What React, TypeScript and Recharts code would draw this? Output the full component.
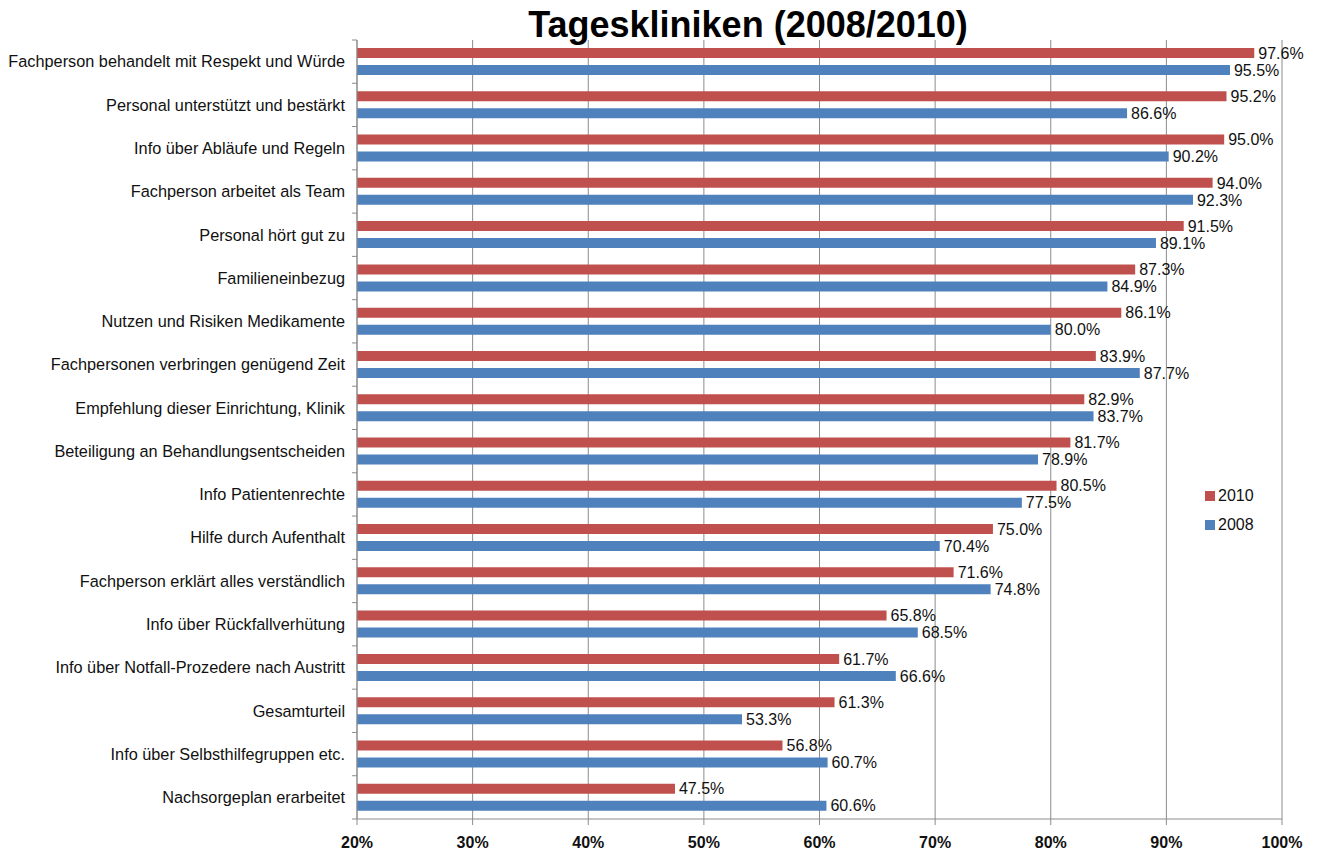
import React from "react";
import { BarChart, Bar, XAxis, YAxis, CartesianGrid, LabelList, Legend } from "recharts";

// Kategorien von oben nach unten
const categories = [
  "Fachperson behandelt mit Respekt und Würde",
  "Personal unterstützt und bestärkt",
  "Info über Abläufe und Regeln",
  "Fachperson arbeitet als Team",
  "Personal hört gut zu",
  "Familieneinbezug",
  "Nutzen und Risiken Medikamente",
  "Fachpersonen verbringen genügend Zeit",
  "Empfehlung dieser Einrichtung, Klinik",
  "Beteiligung an Behandlungsentscheiden",
  "Info Patientenrechte",
  "Hilfe durch Aufenthalt",
  "Fachperson erklärt alles verständlich",
  "Info über Rückfallverhütung",
  "Info über Notfall-Prozedere nach Austritt",
  "Gesamturteil ",
  "Info über Selbsthilfegruppen etc.",
  "Nachsorgeplan erarbeitet",
];

const values2010 = [97.6, 95.2, 95.0, 94.0, 91.5, 87.3, 86.1, 83.9, 82.9, 81.7, 80.5, 75.0, 71.6, 65.8, 61.7, 61.3, 56.8, 47.5];
const values2008 = [95.5, 86.6, 90.2, 92.3, 89.1, 84.9, 80.0, 87.7, 83.7, 78.9, 77.5, 70.4, 74.8, 68.5, 66.6, 53.3, 60.7, 60.6];

const xTicks = [20, 30, 40, 50, 60, 70, 80, 90, 100];

const RED = "#C0504D";
const BLUE = "#4F81BD";
const GRID = "#8c8c8c";
const FONT = '"Liberation Sans", Arial, sans-serif';

const data = categories.map((name, i) => ({
  name,
  y2010: values2010[i],
  y2008: values2008[i],
}));

const WIDTH = 1322;
const HEIGHT = 853;
const PLOT_LEFT = 357;
const PLOT_TOP = 40;
const PLOT_BOTTOM = 819;
const band = (PLOT_BOTTOM - PLOT_TOP) / categories.length;

const pct = (v: any) => `${Number(v).toFixed(1)}%`;

// y-axis tick: label right aligned plus small tick marks at the band borders
const CategoryTick = ({ y, payload, index }: any) => {
  const top = y - band / 2;
  const last = index === categories.length - 1;
  return (
    <g>
      <line x1={PLOT_LEFT - 5} x2={PLOT_LEFT} y1={top} y2={top} stroke={GRID} />
      {last && <line x1={PLOT_LEFT - 5} x2={PLOT_LEFT} y1={top + band} y2={top + band} stroke={GRID} />}
      <text x={345} y={y} dy={5.8} textAnchor="end" fontSize={16.3} fill="#111" fontFamily={FONT}>
        {payload.value}
      </text>
    </g>
  );
};

const LegendBox = () => (
  <div style={{ fontFamily: FONT, fontSize: 16, color: "#111" }}>
    {[
      { label: "2010", color: RED },
      { label: "2008", color: BLUE },
    ].map((item) => (
      <div key={item.label} style={{ display: "flex", alignItems: "center", height: 29 }}>
        <span style={{ width: 10, height: 10, background: item.color, marginRight: 3 }} />
        <span>{item.label}</span>
      </div>
    ))}
  </div>
);

export default function App() {
  return (
    <div style={{ position: "relative", width: WIDTH, height: HEIGHT, background: "#fff", fontFamily: FONT }}>
      <style>{`body{margin:0}`}</style>
      <div
        style={{
          position: "absolute",
          left: 748,
          top: 7,
          transform: "translateX(-50%)",
          fontSize: 36,
          fontWeight: "bold",
          lineHeight: 1,
          whiteSpace: "nowrap",
          color: "#000",
          zIndex: 2,
        }}
      >
        Tageskliniken (2008/2010)
      </div>
      <BarChart
        width={WIDTH}
        height={HEIGHT}
        data={data}
        layout="vertical"
        margin={{ top: PLOT_TOP, right: 40, bottom: 0, left: 0 }}
        barSize={10}
        barGap={7}
      >
        <CartesianGrid horizontal={false} vertical stroke={GRID} />
        <XAxis
          type="number"
          domain={[20, 100]}
          ticks={xTicks}
          allowDataOverflow
          height={HEIGHT - PLOT_BOTTOM}
          tickFormatter={(v) => `${v}%`}
          tick={{ fontSize: 16, fontWeight: "bold", fill: "#111", fontFamily: FONT }}
          tickSize={6}
          tickMargin={12}
          stroke={GRID}
        />
        <YAxis
          type="category"
          dataKey="name"
          width={PLOT_LEFT}
          tick={<CategoryTick />}
          tickLine={false}
          stroke={GRID}
          interval={0}
        />
        <Legend
          layout="vertical"
          align="center"
          verticalAlign="middle"
          wrapperStyle={{ left: 1205, top: 481, width: 80 }}
          content={<LegendBox />}
        />
        <Bar dataKey="y2010" name="2010" fill={RED} isAnimationActive={false}>
          <LabelList dataKey="y2010" position="right" offset={4} formatter={pct} fontSize={16} fill="#111" fontFamily={FONT} />
        </Bar>
        <Bar dataKey="y2008" name="2008" fill={BLUE} isAnimationActive={false}>
          <LabelList dataKey="y2008" position="right" offset={4} formatter={pct} fontSize={16} fill="#111" fontFamily={FONT} />
        </Bar>
      </BarChart>
    </div>
  );
}
